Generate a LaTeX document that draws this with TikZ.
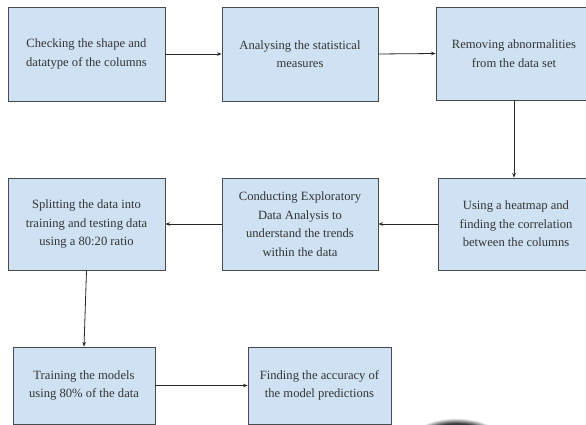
\documentclass[tikz,border=0pt]{standalone}
\usepackage{fontspec}
\setmainfont{Liberation Serif}
\usetikzlibrary{arrows.meta}
\definecolor{boxfill}{HTML}{CFE2F3}
\definecolor{boxline}{HTML}{4A4A4A}
\definecolor{txt}{HTML}{333333}
\pgfdeclareradialshading{blobshade}{\pgfpoint{0bp}{0bp}}{%
  color(0bp)=(black!85); color(19bp)=(black!78); color(25bp)=(white); color(50bp)=(white)}
\begin{document}
\begin{tikzpicture}[x=1pt,y=-1pt,
  stepbox/.style={draw=boxline, line width=0.9pt, fill=boxfill, align=center,
    text=txt, inner sep=0pt,
    font=\fontsize{12.6}{18.6}\selectfont},
  link/.style={draw=black!85, line width=0.8pt, -{Stealth[length=4.5pt,width=3.5pt]}}]
\useasboundingbox (0,0) rectangle (586,425);
\clip (0,0) rectangle (586,425);
\fill[white] (0,0) rectangle (586,425);
\node[stepbox, minimum width=157pt, minimum height=94pt] (b1) at (86.5,54) {Checking the shape and\\datatype of the columns};
\node[stepbox, minimum width=156pt, minimum height=94pt] (b2) at (300,54) {Analysing the statistical\\measures};
\node[stepbox, minimum width=156pt, minimum height=93pt] (b3) at (514,53.5) {Removing abnormalities\\from the data set};
\node[stepbox, minimum width=156pt, minimum height=92pt] (b4) at (516,224) {Using a heatmap and\\finding the correlation\\between the columns};
\node[stepbox, minimum width=156pt, minimum height=92pt] (b5) at (300,224) {Conducting Exploratory\\Data Analysis to\\understand the trends\\within the data};
\node[stepbox, minimum width=157pt, minimum height=92pt] (b6) at (86.5,224) {Splitting the data into\\training and testing data\\using a 80:20 ratio};
\node[stepbox, minimum width=142pt, minimum height=77pt] (b7) at (84,385.5) {Training the models\\using 80\% of the data};
\node[stepbox, minimum width=143pt, minimum height=77pt] (b8) at (319.5,385.5) {Finding the accuracy of\\the model predictions};
\draw[link] (b1.east) -- (b2.west);
\draw[link] (b2.east) -- (b3.west);
\draw[link] (b3.south) -- (b4.north -| b3.south);
\draw[link] (b4.west) -- (b5.east);
\draw[link] (b5.west) -- (b6.east);
\draw[link] (b6.south) -- (b7.north);
\draw[link] (b7.east) -- (b8.west);
\shade[shading=blobshade] (456,440) ellipse [x radius=46pt, y radius=22pt];
\end{tikzpicture}
\end{document}
